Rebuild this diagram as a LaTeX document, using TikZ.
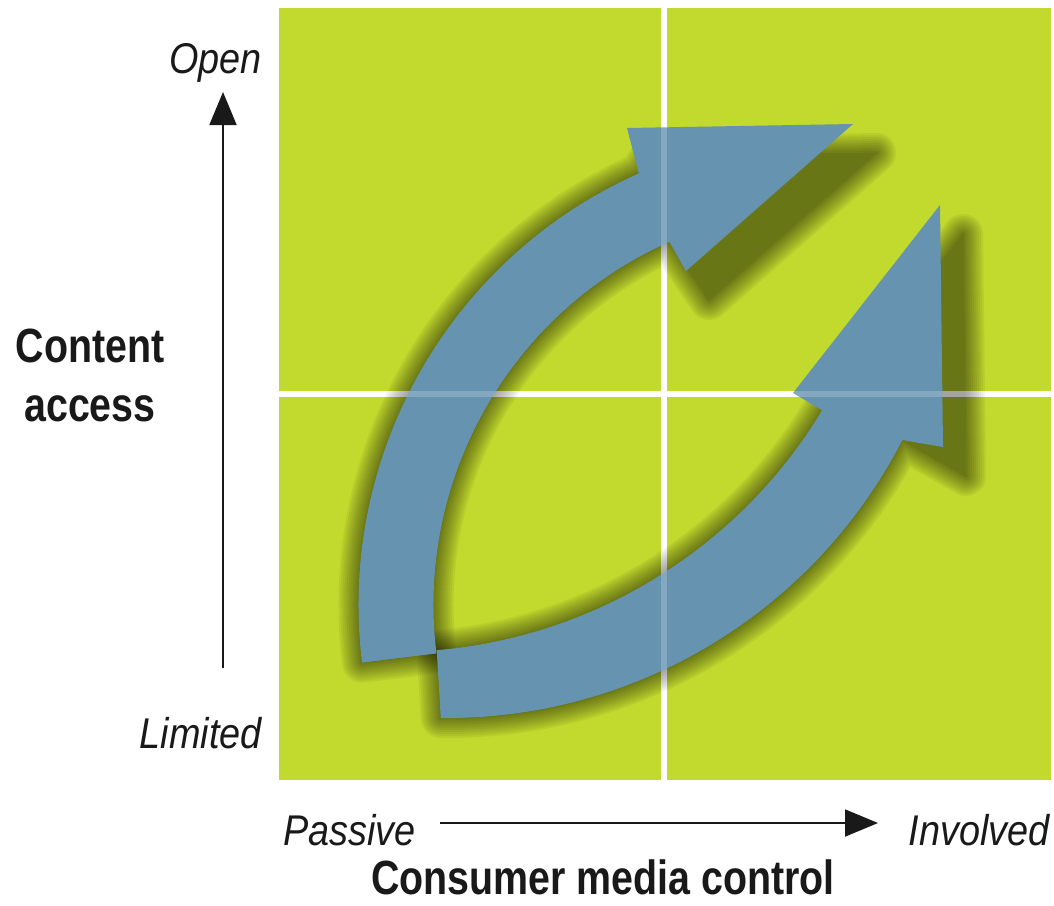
\documentclass[tikz,border=0pt]{standalone}
\usepackage{fontspec}
\setmainfont{Liberation Sans}[FakeStretch=0.82]
\newfontfamily\axisfont{Liberation Sans}[FakeStretch=0.88]
\usetikzlibrary{positioning,calc,arrows.meta}

\definecolor{quadgreen}{RGB}{194, 217, 46}
\definecolor{arrowblue}{RGB}{101, 147, 176}
\definecolor{textcolor}{RGB}{25, 25, 25}

% outlines of the two curved arrows
\newcommand{\upperarrow}{($(c1)+(173:472.5)$)
    arc[start angle=173, end angle=246, radius=472.5]
    -- (627,128) -- (853,124) -- (686,271)
    -- ($(c1)+(246:397.5)$)
    arc[start angle=246, end angle=173, radius=397.5] -- cycle}
\newcommand{\lowerarrow}{($(c2out)+(90.7:512)$)
    arc[start angle=90.7, end angle=27.2, radius=512]
    -- (943,447) -- (940,205) -- (793,393)
    -- ($(c2in)+(31.1:500)$)
    arc[start angle=31.1, end angle=85.1, radius=500] -- cycle}

\begin{document}
\begin{tikzpicture}[x=1pt, y=-1pt,
            gridline/.style={white, line width=5.5pt},
            bigarrow/.style={fill=arrowblue},
            shadowlayer/.style={fill=black, draw=black, line join=round},
            axis/.style={line width=1.8pt, draw=textcolor,
                -{Triangle[length=33pt, width=27pt]}},
            title/.style={font={\fontsize{48}{59}\selectfont\bfseries},
                text=textcolor, align=center, inner sep=0pt},
            endlabel/.style={font={\fontsize{43}{50}\axisfont\itshape},
                text=textcolor, inner sep=0pt},
        ]
            \useasboundingbox (0,0) rectangle (1054,905);
            \fill[white] (0,0) rectangle (1054,905);

            % quadrants
            \fill[quadgreen] (279,8) rectangle (1051,780);
            \draw[gridline] (664,8) -- (664,780);
            \draw[gridline] (279,394) -- (1051,394);

            % arc centres
            \coordinate (c1) at (831,605);
            \coordinate (c2out) at (447,206);
            \coordinate (c2in) at (394,152);

            \begin{scope}
                \clip (279,8) rectangle (1051,780);
                % soft shadows, built up in layers
                \foreach \w in {40,36,...,0} {
                    \begin{scope}[transparency group, opacity=0.05, shift={(23,29)}]
                        \path[shadowlayer, line width=\w pt] \upperarrow;
                    \end{scope}
                    \begin{scope}[transparency group, opacity=0.05, shift={(23,29)}]
                        \path[shadowlayer, line width=\w pt] \lowerarrow;
                    \end{scope}
                }
                \path[bigarrow] \upperarrow;
                \path[bigarrow] \lowerarrow;
                \draw[gridline, opacity=0.2] (664,8) -- (664,780);
                \draw[gridline, opacity=0.2] (279,394) -- (1051,394);
            \end{scope}

            % labels
            \node[title] (content) at (90,375) {Content\\access};
            \node[endlabel, anchor=base east] (open) at (262,73) {Open};
            \node[endlabel, anchor=base east] (limited) at (262,748) {Limited};
            \node[endlabel, anchor=base west] (passive) at (283,845) {Passive};
            \node[endlabel, anchor=base east] (involved) at (1050,845) {Involved};
            \node[title, anchor=base] (consumer) at (603,894) {Consumer media control};

            \coordinate (vbot) at (223,668);
            \coordinate (vtop) at (223,92);
            \coordinate (hleft) at (440,823);
            \coordinate (hright) at (878,823);
            \draw[axis] (vbot) -- (vtop);
            \draw[axis] (hleft) -- (hright);

        \end{tikzpicture}
\end{document}
